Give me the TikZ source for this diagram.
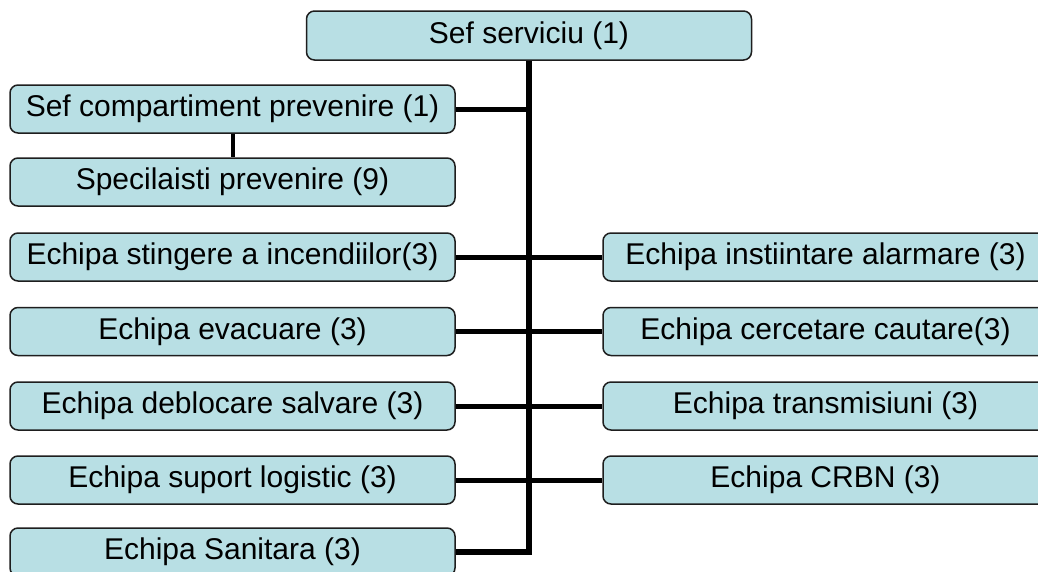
\documentclass[tikz,border=0pt]{standalone}
\usepackage{fontspec}
\setmainfont{Liberation Sans}
\definecolor{boxfill}{HTML}{B8DFE4}
\definecolor{boxline}{HTML}{1E1E1E}
\begin{document}
\begin{tikzpicture}[x=1pt,y=-1pt,
  box/.style={draw=boxline, line width=1.5pt, fill=boxfill, rounded corners=8pt,
    minimum width=445pt, minimum height=48pt, inner sep=0pt, text=black,
    font=\fontsize{30}{34}\selectfont},
  conn/.style={line width=5pt, draw=black, line join=miter}]
\clip (0,0) rectangle (1038,571);
\fill[white] (0,0) rectangle (1038,571);
% top
\node[box, minimum height=49pt] (top) at (529,35.5) {Sef serviciu (1)};
% left column
\node[box] (sc) at (232.5,109) {Sef compartiment prevenire (1)};
\node[box] (sp) at (232.5,182) {Specilaisti prevenire (9)};
\node[box] (l1) at (232.5,257) {Echipa stingere a incendiilor(3)};
\node[box] (l2) at (232.5,331.5) {Echipa evacuare (3)};
\node[box] (l3) at (232.5,406) {Echipa deblocare salvare (3)};
\node[box] (l4) at (232.5,480) {Echipa suport logistic (3)};
\node[box] (l5) at (232.5,552) {Echipa Sanitara (3)};
% right column
\node[box] (r1) at (825.5,257) {Echipa instiintare alarmare (3)};
\node[box] (r2) at (825.5,331.5) {Echipa cercetare cautare(3)};
\node[box] (r3) at (825.5,406) {Echipa transmisiuni (3)};
\node[box] (r4) at (825.5,480) {Echipa CRBN (3)};
% connectors
\draw[conn, line width=5.5pt] (top.south) |- (l5.east);
\draw[conn] (sc.east) -- (sc.east -| top.south);
\draw[conn, line width=4pt] (sc.south) -- (sp.north);
\draw[conn] (l1.east) -- (r1.west);
\draw[conn] (l2.east) -- (r2.west);
\draw[conn] (l3.east) -- (r3.west);
\draw[conn] (l4.east) -- (r4.west);
\end{tikzpicture}
\end{document}
